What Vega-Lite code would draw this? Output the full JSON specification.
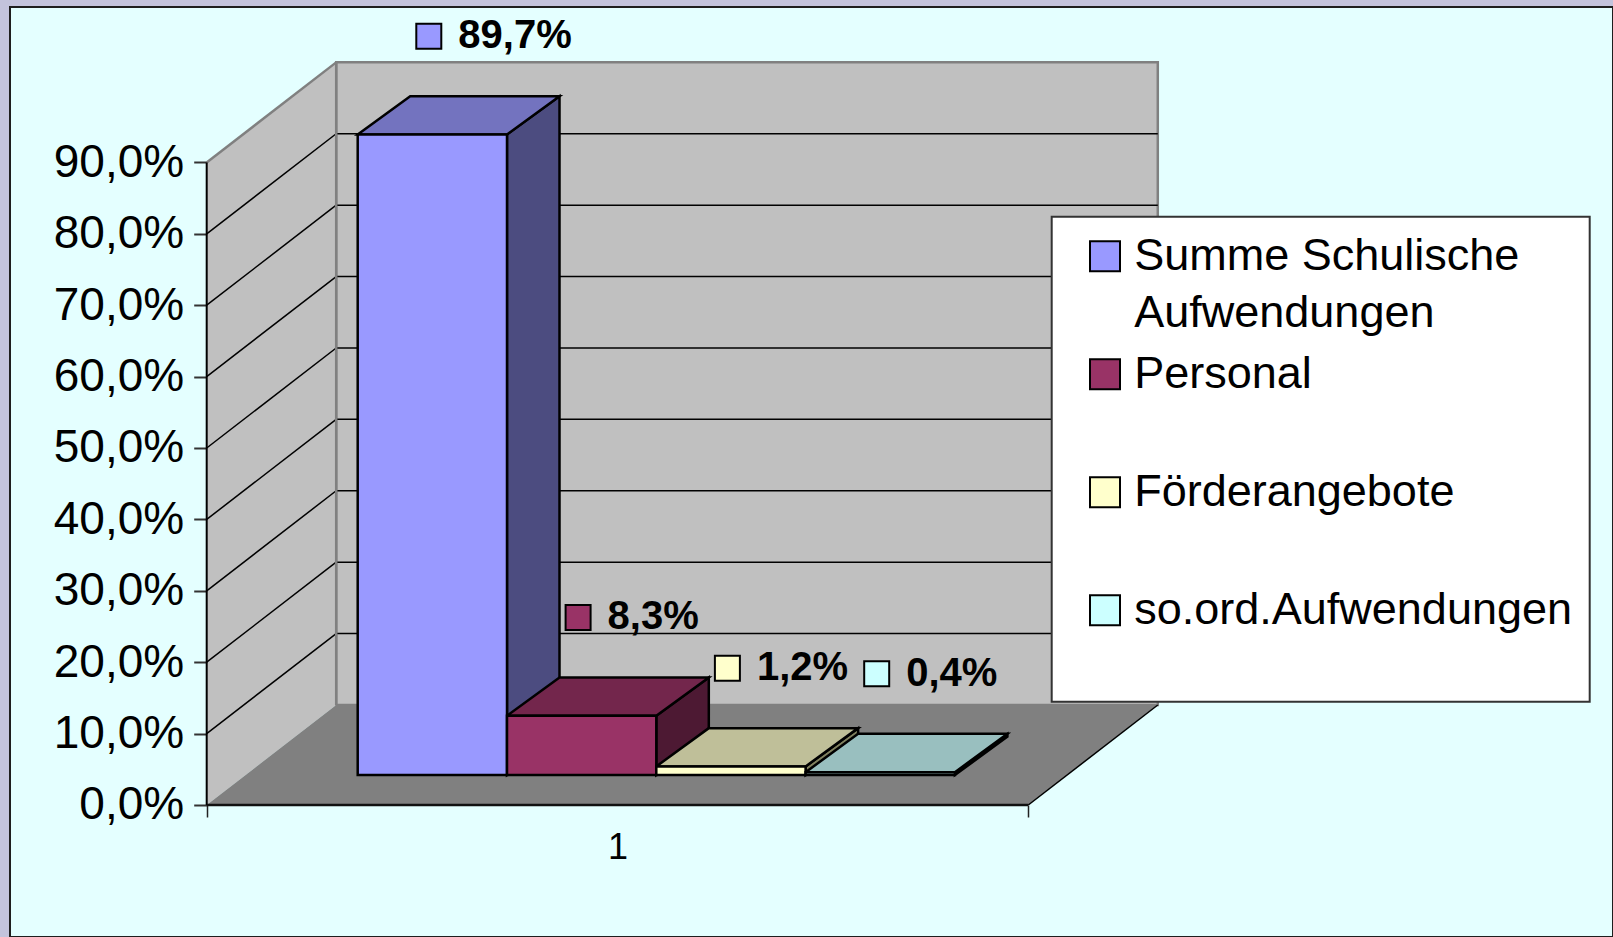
{
  "$schema": "https://vega.github.io/schema/vega-lite/v6.json",
  "width": 1603,
  "height": 930,
  "autosize": {"type": "none"},
  "padding": {"left": 10, "top": 7, "right": 0, "bottom": 0},
  "background": "#C3C3DC",
  "config": {
    "font": "Liberation Sans",
    "locale": {"number": {"decimal": ",", "thousands": ".", "grouping": [3], "currency": ["", " €"]}},
    "view": {"fill": "#E4FFFF", "stroke": "#1E1E1E", "strokeWidth": 2},
    "axis": {"grid": false, "domain": false, "labelFont": "Liberation Sans", "labelColor": "#000000"},
    "legend": {"strokeWidth": 2},
    "style": {"guide-label": {"lineHeight": 57}}
  },
  "datasets": {
    "balken": [
      {"kategorie": "Summe Schulische Aufwendungen", "anteil": 0.897},
      {"kategorie": "Personal", "anteil": 0.083},
      {"kategorie": "Förderangebote", "anteil": 0.012},
      {"kategorie": "so.ord.Aufwendungen", "anteil": 0.004}
    ],
    "raster": [
      {"v": 0}, {"v": 0.1}, {"v": 0.2}, {"v": 0.3}, {"v": 0.4},
      {"v": 0.5}, {"v": 0.6}, {"v": 0.7}, {"v": 0.8}, {"v": 0.9}
    ]
  },
  "resolve": {"scale": {"fill": "independent"}},
  "layer": [
    {
      "data": {"name": "raster"},
      "transform": [{"filter": "datum.v == 0"}],
      "mark": {"type": "rect", "fill": "#C0C0C0", "stroke": "#808080", "strokeWidth": 2.5},
      "encoding": {
        "x": {"datum": 0.1576, "type": "quantitative",
          "scale": {"domain": [-0.23941, 1.71166], "nice": false, "zero": false},
          "axis": {"values": [0, 0.5, 1], "labelExpr": "datum.value == 0.5 ? '1' : ''",
            "tickColor": {"condition": {"test": "datum.value == 0.5", "value": "rgba(0,0,0,0)"}, "value": "#222222"},
            "tickSize": 12, "tickWidth": 1.5, "labelFontSize": 36, "labelPadding": 13, "offset": -132,
            "title": null, "labelOverlap": false, "labelFlush": false, "labelBound": false}},
        "x2": {"datum": 1.1576},
        "y": {"datum": 0.1401, "type": "quantitative",
          "scale": {"domain": [-0.184874, 1.117647], "nice": false, "zero": false},
          "axis": {"values": [0, 0.1, 0.2, 0.3, 0.4, 0.5, 0.6, 0.7, 0.8, 0.9], "format": ".1%",
            "labelFontSize": 46, "labelPadding": 10, "tickSize": 13, "tickWidth": 2, "tickColor": "#333333",
            "offset": -196.7, "title": null, "labelOverlap": false, "labelFlush": false}},
        "y2": {"datum": 1.0401}
      }
    },
    {
      "data": {"name": "raster"},
      "transform": [
        {"filter": "datum.v == 0"},
        {"calculate": "0", "as": "vorn"},
        {"calculate": "1", "as": "hinten"},
        {"fold": ["vorn", "hinten"], "as": ["ebene", "t"]},
        {"calculate": "datum.t * 0.1576", "as": "wx"},
        {"calculate": "datum.t * 0.1401", "as": "wy0"},
        {"calculate": "datum.wy0 + 0.9", "as": "wy1"}
      ],
      "mark": {"type": "area", "orient": "vertical", "fill": "#C0C0C0", "opacity": 1},
      "encoding": {
        "x": {"field": "wx", "type": "quantitative", "title": null},
        "y": {"field": "wy0", "type": "quantitative", "stack": null, "title": null},
        "y2": {"field": "wy1"}
      }
    },
    {
      "data": {"name": "raster"},
      "transform": [
        {"filter": "datum.v == 0"},
        {"calculate": "0", "as": "vorn"},
        {"calculate": "1", "as": "hinten"},
        {"fold": ["vorn", "hinten"], "as": ["ebene", "t"]},
        {"calculate": "datum.t * 0.1401", "as": "fy"},
        {"calculate": "datum.t * 0.1576", "as": "fx0"},
        {"calculate": "1 + datum.t * 0.1576", "as": "fx1"}
      ],
      "mark": {"type": "area", "orient": "horizontal", "fill": "#808080", "opacity": 1},
      "encoding": {
        "y": {"field": "fy", "type": "quantitative", "title": null},
        "x": {"field": "fx0", "type": "quantitative", "stack": null, "title": null},
        "x2": {"field": "fx1"}
      }
    },
    {
      "data": {"name": "raster"},
      "transform": [
        {"filter": "datum.v > 0.05 && datum.v < 0.85"},
        {"calculate": "datum.v + 0.1401", "as": "gy"}
      ],
      "layer": [
        {
          "mark": {"type": "rule", "color": "#000000", "strokeWidth": 1.5},
          "encoding": {
            "x": {"datum": 0.1576, "type": "quantitative"},
            "x2": {"datum": 1.1576},
            "y": {"field": "gy", "type": "quantitative", "title": null}
          }
        },
        {
          "mark": {"type": "rule", "color": "#000000", "strokeWidth": 1.5},
          "encoding": {
            "x": {"datum": 0, "type": "quantitative"},
            "x2": {"datum": 0.1576},
            "y": {"field": "v", "type": "quantitative", "title": null},
            "y2": {"field": "gy"}
          }
        }
      ]
    },
    {
      "data": {"name": "raster"},
      "transform": [{"filter": "datum.v == 0"}],
      "layer": [
        {
          "mark": {"type": "rule", "color": "#808080", "strokeWidth": 2.5},
          "encoding": {
            "x": {"datum": 0, "type": "quantitative"},
            "x2": {"datum": 0.1576},
            "y": {"datum": 0.9, "type": "quantitative"},
            "y2": {"datum": 1.0401}
          }
        },
        {
          "mark": {"type": "rule", "color": "#808080", "strokeWidth": 2.5},
          "encoding": {
            "x": {"datum": 0.1576, "type": "quantitative"},
            "y": {"datum": 0.1401, "type": "quantitative"},
            "y2": {"datum": 1.0401}
          }
        },
        {
          "mark": {"type": "rule", "color": "#000000", "strokeWidth": 2},
          "encoding": {
            "x": {"datum": 0, "type": "quantitative"},
            "y": {"datum": 0, "type": "quantitative"},
            "y2": {"datum": 0.9}
          }
        },
        {
          "mark": {"type": "rule", "color": "#111111", "strokeWidth": 2.5},
          "encoding": {
            "x": {"datum": 0, "type": "quantitative"},
            "x2": {"datum": 1},
            "y": {"datum": 0, "type": "quantitative"}
          }
        },
        {
          "mark": {"type": "rule", "color": "#000000", "strokeWidth": 1.5},
          "encoding": {
            "x": {"datum": 1, "type": "quantitative"},
            "x2": {"datum": 1.1576},
            "y": {"datum": 0, "type": "quantitative"},
            "y2": {"datum": 0.1401}
          }
        }
      ]
    },
    {
      "data": {"name": "balken"},
      "transform": [
        {"window": [{"op": "row_number", "as": "rang"}]},
        {"calculate": "0.18379 + 0.18172 * (datum.rang - 1)", "as": "x0"},
        {"calculate": "datum.x0 + 0.18172", "as": "x1"},
        {"calculate": "0.04202", "as": "yb"},
        {"calculate": "0.04202 + datum.anteil", "as": "yt"}
      ],
      "resolve": {"scale": {"fill": "independent"}},
      "layer": [
        {
          "transform": [
            {"calculate": "0", "as": "vorn"},
            {"calculate": "1", "as": "hinten"},
            {"fold": ["vorn", "hinten"], "as": ["ebene", "t"]},
            {"calculate": "datum.x1 + datum.t * 0.0639", "as": "sx"},
            {"calculate": "0.04202 + datum.t * 0.05364", "as": "sy0"},
            {"calculate": "datum.sy0 + datum.anteil", "as": "sy1"}
          ],
          "mark": {"type": "area", "orient": "vertical", "stroke": "#000000", "strokeWidth": 2.5, "opacity": 1},
          "encoding": {
            "x": {"field": "sx", "type": "quantitative", "title": null},
            "y": {"field": "sy0", "type": "quantitative", "stack": null, "title": null},
            "y2": {"field": "sy1"},
            "detail": {"field": "kategorie"},
            "fill": {"field": "kategorie", "type": "nominal",
              "scale": {"domain": ["Summe Schulische Aufwendungen", "Personal", "Förderangebote", "so.ord.Aufwendungen"],
                "range": ["#4C4C80", "#4D1933", "#80805F", "#608080"]},
              "legend": null}
          }
        },
        {
          "transform": [
            {"calculate": "0", "as": "vorn"},
            {"calculate": "1", "as": "hinten"},
            {"fold": ["vorn", "hinten"], "as": ["ebene", "t"]},
            {"calculate": "datum.x0 + datum.t * 0.0639", "as": "tx0"},
            {"calculate": "datum.x1 + datum.t * 0.0639", "as": "tx1"},
            {"calculate": "datum.yt + datum.t * 0.05364", "as": "ty"}
          ],
          "mark": {"type": "area", "orient": "horizontal", "stroke": "#000000", "strokeWidth": 2.5, "opacity": 1},
          "encoding": {
            "y": {"field": "ty", "type": "quantitative", "title": null},
            "x": {"field": "tx0", "type": "quantitative", "stack": null, "title": null},
            "x2": {"field": "tx1"},
            "detail": {"field": "kategorie"},
            "fill": {"field": "kategorie", "type": "nominal",
              "scale": {"domain": ["Summe Schulische Aufwendungen", "Personal", "Förderangebote", "so.ord.Aufwendungen"],
                "range": ["#7373BF", "#73264C", "#BFBF99", "#99BFBF"]},
              "legend": null}
          }
        },
        {
          "mark": {"type": "rect", "stroke": "#000000", "strokeWidth": 2.5, "opacity": 1},
          "encoding": {
            "x": {"field": "x0", "type": "quantitative", "title": null},
            "x2": {"field": "x1"},
            "y": {"field": "yb", "type": "quantitative", "title": null},
            "y2": {"field": "yt"},
            "fill": {"field": "kategorie", "type": "nominal",
              "scale": {"domain": ["Summe Schulische Aufwendungen", "Personal", "Förderangebote", "so.ord.Aufwendungen"],
                "range": ["#9999FF", "#993366", "#FFFFCC", "#CCFFFF"]},
              "legend": {
                "orient": "none", "legendX": 1041.7, "legendY": 209.7, "direction": "vertical",
                "title": " ", "titleOrient": "bottom", "titleFontSize": 40, "titlePadding": 11,
                "padding": 17, "fillColor": "#FFFFFF", "strokeColor": "#333333",
                "symbolType": "square", "symbolSize": 900, "symbolStrokeColor": "#000000", "symbolStrokeWidth": 2,
                "symbolOpacity": 1, "symbolOffset": 13.8,
                "labelFont": "Liberation Sans", "labelFontSize": 45, "labelColor": "#000000", "labelBaseline": "middle",
                "labelOffset": 6.7, "labelLimit": 1000, "rowPadding": 15, "gridAlign": "all",
                "labelExpr": "datum.label == 'Summe Schulische Aufwendungen' ? ['Summe Schulische', 'Aufwendungen'] : datum.label"
              }}
          }
        },
        {
          "transform": [
            {"calculate": "datum.x0 + 0.08653", "as": "kx"},
            {"calculate": "datum.anteil + 0.1797", "as": "ky"}
          ],
          "mark": {"type": "point", "shape": "square", "size": 625, "filled": true, "stroke": "#000000", "strokeWidth": 2, "opacity": 1},
          "encoding": {
            "x": {"field": "kx", "type": "quantitative", "title": null},
            "y": {"field": "ky", "type": "quantitative", "title": null},
            "fill": {"field": "kategorie", "type": "nominal",
              "scale": {"domain": ["Summe Schulische Aufwendungen", "Personal", "Förderangebote", "so.ord.Aufwendungen"],
                "range": ["#9999FF", "#993366", "#FFFFCC", "#CCFFFF"]},
              "legend": null}
          }
        },
        {
          "transform": [
            {"calculate": "datum.x0 + 0.12244", "as": "lx"},
            {"calculate": "datum.anteil + 0.1797", "as": "ly"}
          ],
          "mark": {"type": "text", "align": "left", "baseline": "middle", "fontSize": 40, "fontWeight": "bold", "color": "#000000"},
          "encoding": {
            "x": {"field": "lx", "type": "quantitative", "title": null},
            "y": {"field": "ly", "type": "quantitative", "title": null},
            "text": {"field": "anteil", "type": "quantitative", "format": ".1%"}
          }
        }
      ]
    }
  ]
}
